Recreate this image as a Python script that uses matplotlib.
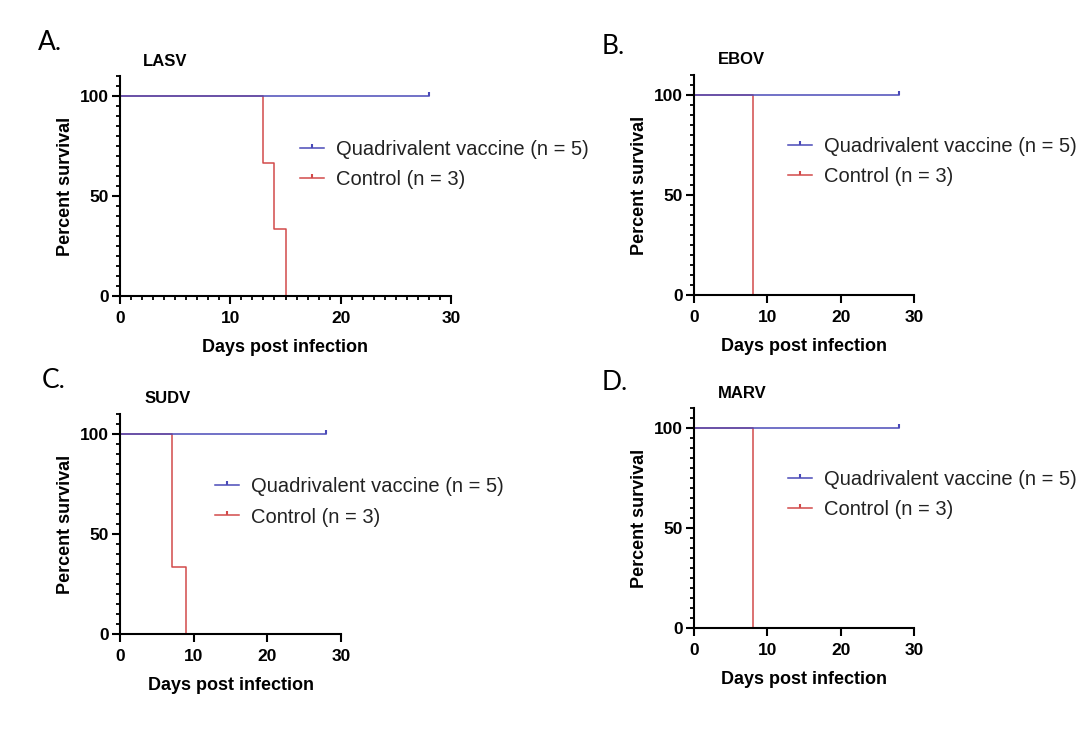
import matplotlib.pyplot as plt
from matplotlib.lines import Line2D
from matplotlib.ticker import MultipleLocator

plt.rcParams['font.family'] = ['Liberation Sans', 'DejaVu Sans']

# Survival data (days, percent)
vac_days = [0, 28]
vac_surv = [100, 100]

lasv_days = [0, 13, 14, 15]
lasv_surv = [100, 66.67, 33.33, 0]
ebov_days = [0, 8]
ebov_surv = [100, 0]
sudv_days = [0, 7, 9]
sudv_surv = [100, 33.33, 0]
marv_days = [0, 8]
marv_surv = [100, 0]

letters = ['A.', 'B.', 'C.', 'D.']
viruses = ['LASV', 'EBOV', 'SUDV', 'MARV']
controls = [(lasv_days, lasv_surv), (ebov_days, ebov_surv),
            (sudv_days, sudv_surv), (marv_days, marv_surv)]
labels = ['Quadrivalent vaccine (n = 5)', 'Control (n = 3)']

blue = '#4a4ab8'
red = '#d24a4a'

W, H = 1080, 731
fig = plt.figure(figsize=(10.8, 7.31), dpi=100)

# axes boxes in pixels: left, right, y0 pixel, y110 pixel
boxes = [(120, 451, 296, 76), (694, 914, 295, 75),
         (120, 341, 634, 414), (694, 914, 628, 408)]
letter_pos = [(38, 43), (602, 47), (42, 380), (602, 383)]
title_pos = [(143, 62), (718, 60), (145, 399), (718, 393)]
leg_pos = [(0.544, 0.598), (0.427, 0.605), (0.43, 0.60), (0.427, 0.605)]
minor_x = [True, False, False, False]

for i in range(4):
    l, r, yb, yt = boxes[i]
    ax = fig.add_axes([l / W, 1 - yb / H, (r - l) / W, (yb - yt) / H])
    cd, cs = controls[i]
    ax.step(cd, cs, where='post', color=red, lw=1.1, clip_on=False)
    ax.step(vac_days, vac_surv, where='post', color=blue, lw=1.1, clip_on=False)
    ax.plot([vac_days[-1]], [vac_surv[-1]], marker=2, ms=3, mew=1.5,
            color=blue, clip_on=False)

    ax.set_xlim(0, 30)
    ax.set_ylim(0, 110)
    ax.set_xticks([0, 10, 20, 30])
    ax.set_yticks([0, 50, 100])
    ax.yaxis.set_minor_locator(MultipleLocator(5))
    if minor_x[i]:
        ax.xaxis.set_minor_locator(MultipleLocator(1))
    for s in ['top', 'right']:
        ax.spines[s].set_visible(False)
    for s in ['left', 'bottom']:
        ax.spines[s].set_linewidth(1.5)
    ax.tick_params(which='major', length=6, width=1.5, labelsize=12.5)
    ax.tick_params(axis='x', which='major', pad=5)
    ax.tick_params(axis='y', which='major', pad=2)
    ax.tick_params(which='minor', length=3, width=1.3)
    for t in ax.get_xticklabels() + ax.get_yticklabels():
        t.set_fontweight('bold')
    ax.set_xlabel('Days post infection', fontsize=13, fontweight='bold', labelpad=9)
    ax.set_ylabel('Percent survival', fontsize=13, fontweight='bold', labelpad=4)

    handles = [Line2D([], [], color=blue, lw=1.1, marker=2, ms=3, mew=1.5),
               Line2D([], [], color=red, lw=1.1, marker=2, ms=3, mew=1.5)]
    leg = ax.legend(handles, labels, loc='center left', bbox_to_anchor=leg_pos[i],
                    frameon=False, fontsize=14.5, handlelength=1.2, handletextpad=0.6,
                    borderpad=0, borderaxespad=0, labelspacing=0.55, numpoints=1)
    for t in leg.get_texts():
        t.set_color('#222222')

    fig.text(letter_pos[i][0] / W, 1 - letter_pos[i][1] / H, letters[i],
             fontsize=19, family=['Lato', 'DejaVu Sans'], va='center', ha='left')
    fig.text(title_pos[i][0] / W, 1 - title_pos[i][1] / H, viruses[i],
             fontsize=12, fontweight='bold', va='center', ha='left')

fig.savefig('out.png', dpi=100)
